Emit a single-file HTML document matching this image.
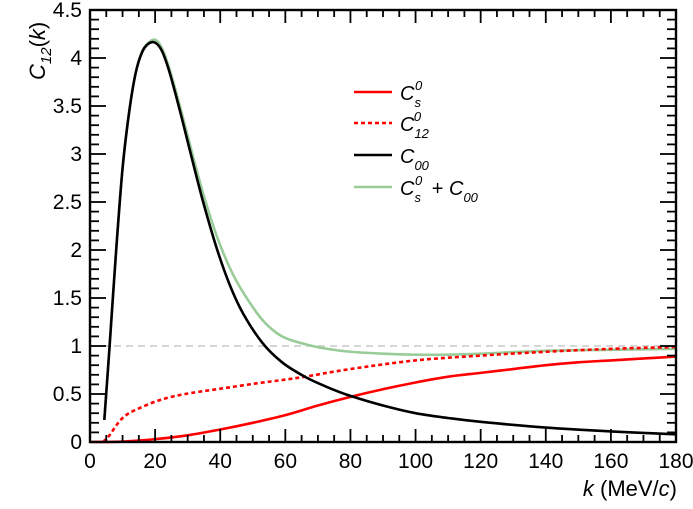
<!DOCTYPE html>
<html><head><meta charset="utf-8"><style>
body{margin:0;background:#fff;}
svg{display:block;font-family:"Liberation Sans",sans-serif;}
</style></head><body>
<svg id="chart" width="693" height="509" viewBox="0 0 693 509" xmlns="http://www.w3.org/2000/svg">
<g id="grid"></g>
<g id="series"></g>
<g id="axes"></g>
<g id="legend">
  <line x1="354" y1="92" x2="392" y2="92" stroke="#ff0000" stroke-width="2.5"/>
  <text x="400" y="100" font-size="20" font-style="italic">C<tspan font-size="13" dy="7">s</tspan><tspan font-size="13" dx="-6" dy="-17">0</tspan></text>
  <line x1="354" y1="123" x2="392" y2="123" stroke="#ff0000" stroke-width="2.5" stroke-dasharray="4,3"/>
  <text x="400" y="131" font-size="20" font-style="italic">C<tspan font-size="13" dy="7">12</tspan><tspan font-size="13" dx="-15" dy="-17">0</tspan></text>
  <line x1="354" y1="155" x2="392" y2="155" stroke="#000" stroke-width="2.5"/>
  <text x="400" y="163" font-size="20" font-style="italic">C<tspan font-size="13" dy="7">00</tspan></text>
  <line x1="354" y1="187" x2="392" y2="187" stroke="#99cc99" stroke-width="2.5"/>
  <text x="400" y="195" font-size="20" font-style="italic">C<tspan font-size="13" dy="7">s</tspan><tspan font-size="13" dx="-6" dy="-17">0</tspan><tspan font-style="normal" dx="4" dy="10"> + </tspan>C<tspan font-size="13" dy="7">00</tspan></text>
</g>
<text transform="translate(45,80) rotate(-90)" font-size="22" font-style="italic">C<tspan font-size="15" dy="6">12</tspan><tspan font-style="normal" dy="-6">(</tspan>k<tspan font-style="normal">)</tspan></text>
<text x="677" y="496" text-anchor="end" font-size="22"><tspan font-style="italic">k</tspan> (MeV/<tspan font-style="italic">c</tspan>)</text>
</svg>
<script>
const blackK=[4.4,6,8,10,12,14,16,18,20,22,24,26,28,30,32,35,39,43,47,53,59,66,73,80,90,100,110,120,140,160,180];
const blackV=[0.23,0.99,1.98,2.85,3.43,3.84,4.06,4.15,4.16,4.08,3.9,3.66,3.4,3.13,2.86,2.47,2.01,1.63,1.34,1.03,0.83,0.68,0.57,0.48,0.38,0.30,0.25,0.21,0.15,0.11,0.08];
const greenK=[4.4,6,8,10,12,14,16,18,20,22,24,26,28,30,32,35,39,43,47,53,59,66,73,80,90,100,110,120,140,160,180];
const greenV=[0.23,0.99,1.98,2.85,3.43,3.84,4.07,4.16,4.19,4.11,3.93,3.7,3.45,3.19,2.93,2.56,2.14,1.81,1.56,1.27,1.1,1.02,0.97,0.94,0.92,0.91,0.91,0.92,0.95,0.96,0.97];
const redK=[0,10,20,30,40,50,60,70,80,90,100,110,120,130,140,150,160,170,180];
const redV=[0,0.005,0.03,0.07,0.13,0.2,0.28,0.38,0.47,0.55,0.62,0.68,0.72,0.76,0.8,0.83,0.85,0.87,0.89];
const dotK=[4,6,8,10,12,15,20,25,31,41,51,60,66,80,100,120,140,160,180];
const dotV=[0,0.07,0.17,0.25,0.3,0.35,0.42,0.47,0.51,0.56,0.61,0.65,0.68,0.76,0.85,0.9,0.94,0.97,0.99];
const xTicks=[0,20,40,60,80,100,120,140,160,180];
const yTicks=[0,0.5,1,1.5,2,2.5,3,3.5,4,4.5];

const L=90,R=676,T=10,B=442;
const X=k=>L+k/180*(R-L);
const Y=v=>B-v/4.5*(B-T);
const NS="http://www.w3.org/2000/svg";
function mk(tag,parent,attrs){const e=document.createElementNS(NS,tag);for(const a in attrs)e.setAttribute(a,attrs[a]);parent.appendChild(e);return e;}
const axes=document.getElementById('axes'),series=document.getElementById('series'),grid=document.getElementById('grid');

let ref=mk('line',grid,{x1:L,x2:R,y1:Y(1),y2:Y(1),stroke:'#c8c8c8','stroke-width':1.5,'stroke-dasharray':'7,5'});



function smoothPath(ks,vs){
  const p=ks.map((k,i)=>[X(k),Y(vs[i])]);
  let d='M'+p[0][0]+','+p[0][1];
  for(let i=0;i<p.length-1;i++){
    const p0=p[Math.max(0,i-1)],p1=p[i],p2=p[i+1],p3=p[Math.min(p.length-1,i+2)];
    const c1=[p1[0]+(p2[0]-p0[0])/6,p1[1]+(p2[1]-p0[1])/6];
    const c2=[p2[0]-(p3[0]-p1[0])/6,p2[1]-(p3[1]-p1[1])/6];
    d+=' C'+c1[0]+','+c1[1]+' '+c2[0]+','+c2[1]+' '+p2[0]+','+p2[1];
  }
  return d;
}
function line(ks,vs,color,dash){
  const p=mk('path',series,{d:smoothPath(ks,vs),fill:'none',stroke:color,'stroke-width':2.6,'stroke-linejoin':'round'});
  if(dash)p.setAttribute('stroke-dasharray',dash);
  return p;
}
let s1=line(greenK,greenV,'#99cc99',null);


let s2=line(redK,redV,'#ff0000',null);


let s3=line(dotK,dotV,'#ff0000','4,3');


let s4=line(blackK,blackV,'#000',null);



let fr=mk('rect',axes,{x:L,y:T,width:R-L,height:B-T,fill:'none',stroke:'#000','stroke-width':2.4});


for(let k=0;k<=180;k+=5){
  const maj=k%20===0,len=maj?13:7;
  const t=mk('line',axes,{x1:X(k),x2:X(k),y1:B,y2:B-len,stroke:'#000','stroke-width':1.8});
  
  
  const t2=mk('line',axes,{x1:X(k),x2:X(k),y1:T,y2:T+len,stroke:'#000','stroke-width':1.8});
  
  
}
for(let i=0;i<=45;i++){
  const v=i/10,maj=i%5===0,len=maj?16:9;
  const t=mk('line',axes,{x1:L,x2:L+len,y1:Y(v),y2:Y(v),stroke:'#000','stroke-width':1.8});
  
  
  const t2=mk('line',axes,{x1:R,x2:R-len,y1:Y(v),y2:Y(v),stroke:'#000','stroke-width':1.8});
  
  
}
xTicks.forEach(k=>{
  const t=mk('text',axes,{x:X(k),y:468,'text-anchor':'middle','font-size':21});
  t.textContent=k;
  
  
});
yTicks.forEach(v=>{
  const t=mk('text',axes,{x:82,y:Y(v)+7,'text-anchor':'end','font-size':21});
  t.textContent=v;
  
  
});
</script>
</body></html>
